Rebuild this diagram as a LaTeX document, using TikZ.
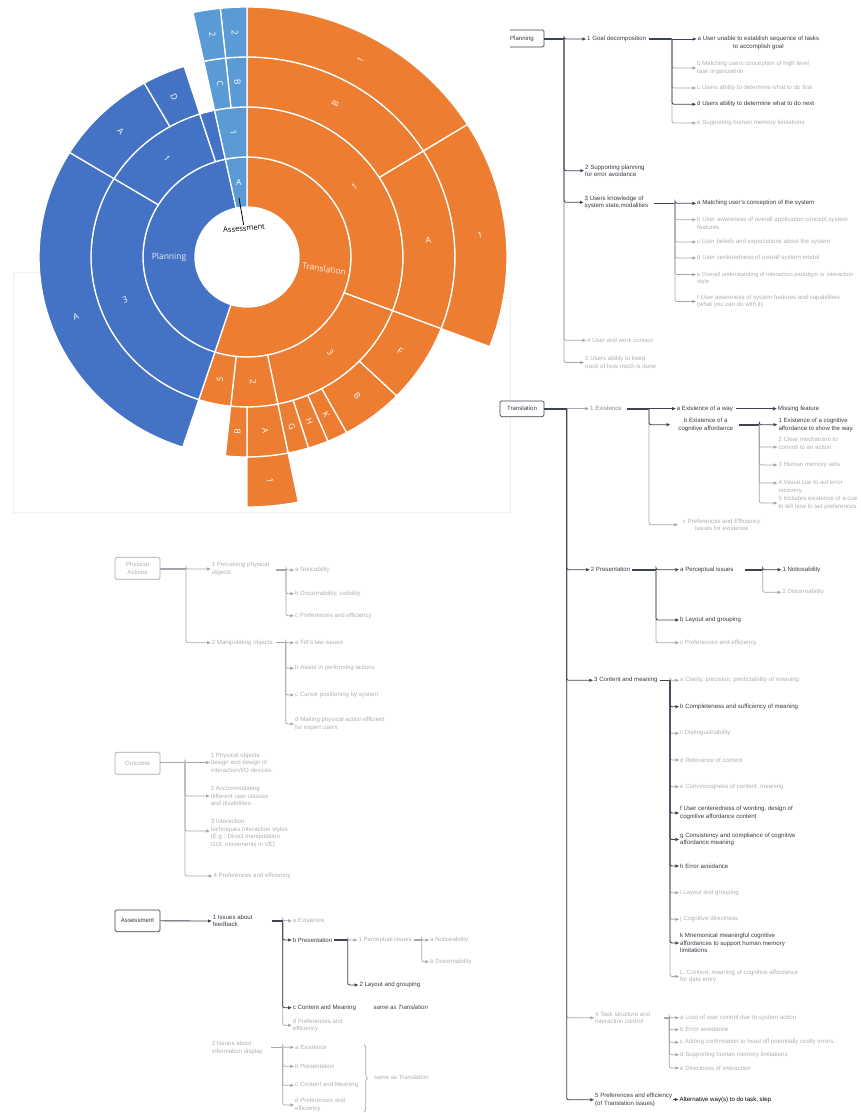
\documentclass[tikz,border=0pt]{standalone}
\usepackage{fontspec}
\setmainfont{Liberation Sans}
\newfontfamily\chartfont{Open Sans}
\usetikzlibrary{arrows.meta,decorations.pathreplacing}
\definecolor{tdark}{HTML}{363A44}
\definecolor{tmid}{HTML}{85888E}
\definecolor{tlight}{HTML}{ACAEB2}
\definecolor{ldark}{HTML}{3D4350}
\definecolor{llight}{HTML}{A3A6AC}
\definecolor{frame}{HTML}{F0F0F0}
\definecolor{ora}{HTML}{ED7D31}
\definecolor{blu}{HTML}{4472C4}
\definecolor{lbl}{HTML}{5B9BD5}
% annular sector: inner radius, outer radius, start angle, end angle, colour
\newcommand{\sbseg}[5]{\fill[seg,fill=#5] plot[domain=#3:#4,samples=60] (\x:#1) -- plot[domain=#4:#3,samples=60] (\x:#2) -- cycle;}
% sector label: angle, radius, text, rotation
\newcommand{\sblab}[4]{\node[slab,rotate=#4] at (#1:#2) {#3};}
\begin{document}
\begin{tikzpicture}[x=1pt,y=-1pt,
  txt/.style={inner sep=0pt, anchor=west, align=left, font=\fontsize{6.1}{7.5}\selectfont},
  dk/.style={txt,text=tdark},
  md/.style={txt,text=tmid},
  lt/.style={txt,text=tlight},
  box/.style={draw=#1, fill=white, rounded corners=1.5pt, line width=0.7pt, minimum width=44pt, inner sep=1pt, align=center, font=\fontsize{6.1}{7.5}\selectfont},
  cd/.style={draw=ldark, line width=0.85pt, rounded corners=2pt, -{Triangle[length=3.6pt,width=3pt]}, shorten >=1pt},
  cl/.style={draw=llight, line width=0.75pt, rounded corners=2pt, -{Triangle[length=3.6pt,width=3pt]}, shorten >=1pt},
  sd/.style={draw=ldark, line width=1.6pt},
  sl/.style={draw=llight, line width=1.4pt},
  seg/.style={draw=white, line width=1.3pt, line join=round},
  slab/.style={font=\chartfont\fontsize{8.5}{9}\selectfont, text=white, inner sep=0pt},
]
\useasboundingbox (0,0) rectangle (860,1113);

% faint border of the chart area
\draw[frame, line width=0.6pt] (40,272) -- (13,272) -- (13,512) -- (510,512) -- (510,297) -- (500,297);

% ---------------- Planning tree ----------------
\node[box=ldark, text=tdark, minimum height=17pt] (plan) at (522,38.5) {Planning};
\coordinate (jP) at (564,39);
\coordinate (jP1) at (672,39);
\coordinate (jP3) at (675,203.3);
\node[dk] (p1) at (587,39) {1 Goal decomposition};
\node[dk, align=center] (pa) at (697.5,43) {a User unable to establish sequence of tasks\\to accomplish goal};
\node[lt] (pb) at (697,68) {b Matching users conception of high level\\task organization};
\node[lt] (pc) at (697,88) {c Users ability to determine what to do first};
\node[dk] (pd) at (697,104.3) {d Users ability to determine what to do next};
\node[lt] (pe) at (697,123) {e Supporting human memory limitations};
\node[dk] (p2) at (585,170.7) {2 Supporting planning\\for error avoidance};
\node[dk] (p3) at (584.5,202.3) {3 Users knowledge of\\system state,modalities};
\node[dk] (p3a) at (697,203.3) {a Matching user's conception of the system};
\node[lt] (p3b) at (697,223.4) {b User awareness of overall application concept,system\\features};
\node[lt] (p3c) at (697,242) {c User beliefs and expectations about the system};
\node[lt] (p3d) at (697,258) {d User centeredness of overall system model};
\node[lt, font=\fontsize{5.75}{7.5}\selectfont] (p3e) at (697,278.3) {e Overall understanding of interaction paradigm or interaction\\style};
\node[lt] (p3f) at (697,301.5) {f User awareness of system features and capabilities\\(what you can do with it)};
\node[lt] (p4) at (587,340.3) {4 User and work context};
\node[lt] (p5) at (585,362.5) {5 Users ability to keep\\track of how much is done};

\draw[sd] (plan.east |- jP) -- (jP);
\draw[sd] ([xshift=3pt]p1.east |- jP1) -- (jP1);
\draw[sd] ([xshift=6pt]p3.east |- jP3) -- (jP3);
\draw[cl] (jP) |- (p4.west);
\draw[cl] (jP) |- (p5.west);
\draw[cl] (jP1) |- (pb.west);
\draw[cl] (jP1) |- (pc.west);
\draw[cl] (jP1) |- (pe.west);
\draw[cl] (jP3) |- ([yshift=3.75pt]p3b.west);
\draw[cl] (jP3) |- (p3c.west);
\draw[cl] (jP3) |- (p3d.west);
\draw[cl] (jP3) |- ([yshift=3.75pt]p3e.west);
\draw[cl] (jP3) |- (p3f.west);
\draw[cd] (jP) |- (p1.west);
\draw[cd] (jP) |- (p2.west);
\draw[cd] (jP) |- (p3.west);
\draw[cd] (jP1) -- (jP1 -| pa.west);
\draw[cd] (jP1) |- (pd.west);
\draw[cd] (jP3) |- (p3a.west);

% ---------------- Translation tree ----------------
\node[box=ldark, text=tdark, minimum height=15.7pt] (tra) at (522,408.8) {Translation};
\coordinate (jT) at (566.7,408.7);
\coordinate (jT1) at (649,408.7);
\coordinate (jTb) at (759.3,424.7);
\coordinate (jT2) at (656,569.7);
\coordinate (jT2a) at (762.7,569.7);
\coordinate (jT3) at (670,680.3);
\coordinate (jT4) at (669.3,1017.8);

\node[md] (t1) at (590,408.7) {1 Existence};
\node[dk] (t1a) at (676.7,408.7) {a Existence of a way};
\node[dk] (miss) at (777.7,408.7) {Missing feature};
\node[dk, anchor=center, align=center] (t1b) at (705.7,424.7) {b Existence of a\\cognitive affordance};
\node[dk] (tb1) at (778.3,424.7) {1 Existence of a cognitive\\affordance to show the way.};
\node[lt] (tb2) at (778.3,443.3) {2 Clear mechanism to\\commit to an action.};
\node[lt] (tb3) at (778.3,465) {3 Human memory aids};
\node[lt] (tb4) at (778.3,486.8) {4 Visual cue to aid error\\recovery.};
\node[lt] (tb5) at (778.3,503) {5 Includes existence of a cue\\to tell how to set preferences.};
\node[lt, anchor=center, align=center] (t1c) at (721.7,524.7) {c Preferences and Efficiency\\issues for existence};

\node[dk] (t2) at (590.7,569.7) {2 Presentation};
\node[dk] (t2a) at (680,569.7) {a Perceptual issues};
\node[dk] (t2a1) at (782.3,569.7) {1 Noticeability};
\node[lt] (t2a2) at (782.3,592.3) {2 Discernability};
\node[dk] (t2b) at (680,620) {b Layout and grouping};
\node[lt] (t2c) at (680,642.7) {c Preferences and efficiency};

\node[dk] (t3) at (594,680.3) {3 Content and meaning};
\node[lt] (t3a) at (680,680.3) {a Clarity, precision, predictability of meaning};
\node[dk] (t3b) at (680,706.7) {b Completeness and sufficiency of meaning};
\node[lt] (t3c) at (680,733.3) {c Distinguishability};
\node[lt] (t3d) at (680,760) {d Relevance of content};
\node[lt] (t3e) at (680,786.7) {e Convincingness of content, meaning};
\node[dk] (t3f) at (680,813) {f User centeredness of wording, design of\\cognitive affordance content};
\node[dk] (t3g) at (680,839.5) {g Consistency and compliance of cognitive\\affordance meaning};
\node[dk] (t3h) at (680,866) {h Error avoidance};
\node[lt] (t3i) at (680,892.7) {i Layout and grouping};
\node[lt] (t3j) at (680,919.3) {j Cognitive directness};
\node[dk] (t3k) at (680,943) {k Mnemonical meaningful cognitive\\affordances to support human memory\\limitations};
\node[lt] (t3l) at (680,976.5) {L. Content, meaning of cognitive affordance\\for data entry};

\node[lt] (t4) at (595,1017.8) {4 Task structure and\\interaction control};
\node[lt] (t4a) at (680,1017.8) {a Loss of user control due to system action};
\node[lt] (t4b) at (680,1029.7) {b Error avoidance};
\node[lt] (t4c) at (680,1042.3) {c Adding confirmation to head off potentially costly errors.};
\node[lt] (t4d) at (680,1054.7) {d Supporting human memory limitations};
\node[lt] (t4e) at (680,1068) {e Directness of interaction};

\node[dk] (t5) at (595,1099.8) {5 Preferences and efficiency\\(of Translation issues)};
\node[txt, text=black] (alt) at (679.5,1099.5) {Alternative way(s) to do task, step};

\draw[sd] (tra.east |- jT) -- (jT);
\draw[sd] ([xshift=5pt]t1.east |- jT1) -- (jT1);
\draw[sd] ([xshift=6pt]t1b.east |- jTb) -- (jTb);
\draw[sd] ([xshift=2pt]t2.east |- jT2) -- (jT2);
\draw[sd] ([xshift=11pt]t2a.east |- jT2a) -- (jT2a);
\draw[sd] ([xshift=2pt]t3.east |- jT3) -- (jT3);
\draw[sl] ([xshift=14pt]t4.east |- jT4) -- (jT4);

\draw[cl] (jT) -- (t1.west);
\draw[cl] (jT) |- (t4.west);
\draw[cl] (jT1) |- ([xshift=-4pt]t1c.west);
\draw[cl] (jTb) |- ([yshift=-3.75pt]tb2.west);
\draw[cl] (jTb) |- (tb3.west);
\draw[cl] (jTb) |- ([yshift=3.75pt]tb4.west);
\draw[cl] (jTb) |- (tb5.west);
\draw[cl] (jT2a) |- (t2a2.west);
\draw[cl] (jT2) |- (t2c.west);
\draw[cl] (jT3) |- (t3a.west);
\draw[cl] (jT3) |- (t3c.west);
\draw[cl] (jT3) |- (t3d.west);
\draw[cl] (jT3) |- (t3e.west);
\draw[cl] (jT3) |- (t3i.west);
\draw[cl] (jT3) |- (t3j.west);
\draw[cl] (jT3) |- (t3l.west);
\draw[cl] (jT4) |- (t4a.west);
\draw[cl] (jT4) |- (t4b.west);
\draw[cl] (jT4) |- (t4c.west);
\draw[cl] (jT4) |- (t4d.west);
\draw[cl] (jT4) |- (t4e.west);

\draw[cd] (jT) |- (t2.west);
\draw[cd] (jT) |- (t3.west);
\draw[cd] (jT) |- (t5.west);
\draw[cd] (jT1) -- (t1a.west);
\draw[cd] (jT1) |- ([xshift=-7pt]t1b.west);
\draw[cd] ([xshift=3pt]t1a.east) -- (miss.west);
\draw[cd] (jTb) |- (tb1.west);
\draw[cd] (jT2) |- (t2a.west);
\draw[cd] (jT2) |- (t2b.west);
\draw[cd] (jT2a) |- (t2a1.west);
\draw[cd] (jT3) |- (t3b.west);
\draw[cd] (jT3) |- (t3f.west);
\draw[cd] (jT3) |- (t3g.west);
\draw[cd] (jT3) |- (t3h.west);
\draw[cd] (jT3) |- (t3k.west);
\draw[cd] ([xshift=0.5pt]t5.east |- alt.west) -- (alt.west);

% ---------------- Physical actions ----------------
\node[box=llight, text=tlight, minimum width=45pt, minimum height=22pt] (phy) at (137.5,568.3) {Physical\\Actions};
\coordinate (jPA) at (186,569);
\coordinate (jPA1) at (286,570);
\coordinate (jPA2) at (285.7,642.7);
\node[lt] (pa1) at (211.7,569) {1 Perceiving physical\\objects};
\node[lt] (pa2) at (211.7,642.7) {2 Manipulating objects};
\node[lt] (pa1a) at (295,570) {a Noticability};
\node[lt] (pa1b) at (295,593.7) {b Discernability, visibility};
\node[lt] (pa1c) at (295,615.7) {c Preferences and efficiency};
\node[lt] (pa2a) at (295,642.7) {a Fitt's law issues};
\node[lt] (pa2b) at (295,668.3) {b Assist in performing actions};
\node[lt] (pa2c) at (295,695) {c Cursor positioning by system};
\node[lt] (pa2d) at (295,724) {d Making physical action efficient\\for expert users};

\draw[sl] (phy.east |- jPA) -- (jPA);
\draw[sl] ([xshift=7pt]pa1.east |- jPA1) -- (jPA1);
\draw[sl] ([xshift=3pt]pa2.east |- jPA2) -- (jPA2);
\draw[cl] (jPA) |- (pa1.west);
\draw[cl] (jPA) |- (pa2.west);
\draw[cl] (jPA1) |- (pa1a.west);
\draw[cl] (jPA1) |- (pa1b.west);
\draw[cl] (jPA1) |- (pa1c.west);
\draw[cl] (jPA2) |- (pa2a.west);
\draw[cl] (jPA2) |- (pa2b.west);
\draw[cl] (jPA2) |- (pa2c.west);
\draw[cl] (jPA2) |- (pa2d.west);

% ---------------- Outcome ----------------
\node[box=llight, text=tlight, minimum width=45pt, minimum height=22pt] (out) at (137.5,763.3) {Outcome};
\coordinate (jO) at (185,762.5);
\node[lt] (o1) at (210.7,762.5) {1 Physical objects\\design and design of\\interaction/I/O devices.};
\node[lt] (o2) at (210.7,796) {2 Accommodating\\different user classes\\and disabilities};
\node[lt] (o3) at (210.7,833.3) {3 Interaction\\techniques,Interaction styles\\(E.g : Direct manipulation\\GUI, movements in VE)};
\node[lt] (o4) at (213.3,876) {4 Preferences and efficiency};
\draw[sl] (out.east |- jO) -- (jO);
\draw[cl] (jO) |- (o1.west);
\draw[cl] (jO) |- (o2.west);
\draw[cl] (jO) |- ([yshift=2.3pt]o3.west);
\draw[cl] (jO) |- (o4.west);

% ---------------- Assessment ----------------
\node[box=ldark, text=tdark, minimum width=45pt, minimum height=21.7pt] (ass) at (137.5,920.8) {Assessment};
\coordinate (jA1) at (282.7,920.7);
\coordinate (jA1b) at (347.7,940);
\coordinate (jA1b1) at (421.7,940);
\coordinate (jA2) at (282.7,1047.3);
\node[dk] (a1) at (212.7,921) {1 Issues about\\feedback};
\node[lt] (a1a) at (292.7,920.7) {a Existence};
\node[dk] (a1b) at (292.7,940) {b Presentation};
\node[lt] (a1b1) at (358.3,940) {1 Perceptual issues};
\node[lt] (a1b1a) at (430,940) {a Noticeability};
\node[lt] (a1b1b) at (430,961.7) {b Discernability};
\node[dk] (a1b2) at (359.3,985) {2 Layout and grouping};
\node[dk] (a1c) at (292.7,1007.7) {c Content and Meaning};
\node[dk, font=\fontsize{6.1}{7.5}\selectfont\itshape] (same1) at (373.3,1007.7) {same as Translation};
\node[lt] (a1d) at (292.7,1025.3) {d Preferences and\\efficiency};
\node[lt] (a2) at (211.7,1047.8) {2 Issues about\\information display};
\node[lt] (a2a) at (295,1047.3) {a Existence};
\node[lt] (a2b) at (295,1066.3) {b Presentation};
\node[lt] (a2c) at (295,1085.3) {c Content and Meaning};
\node[lt] (a2d) at (295,1105) {d Preferences and\\efficiency};
\node[lt] (same2) at (374,1077.7) {same as \textit{Translation}};
\draw[llight, line width=0.7pt, decorate, decoration={brace, amplitude=3.5pt}] (a2a.north -| 364,0) -- (a2d.south -| 364,0);

\draw[cd] (ass.east) -- (a1.west);
\draw[sd] ([xshift=19pt]a1.east |- jA1) -- (jA1);
\draw[sd] ([xshift=2pt]a1b.east |- jA1b) -- (jA1b);
\draw[sl] ([xshift=2pt]a1b1.east |- jA1b1) -- (jA1b1);
\draw[sl] ([xshift=8pt]a2.east |- jA2) -- (jA2);
\draw[cl] (jA1) |- (a1a.west);
\draw[cl] (jA1) |- (a1d.west);
\draw[cl] (jA1b) |- (a1b1.west);
\draw[cl] (jA1b1) |- (a1b1a.west);
\draw[cl] (jA1b1) |- (a1b1b.west);
\draw[cl] (jA2) |- (a2a.west);
\draw[cl] (jA2) |- (a2b.west);
\draw[cl] (jA2) |- (a2c.west);
\draw[cl] (jA2) |- (a2d.west);
\draw[cd] (jA1) |- (a1b.west);
\draw[cd] (jA1) |- (a1c.west);
\draw[cd] (jA1b) |- (a1b2.west);

% chart area background over the left edge of the Planning box
\fill[white] (490,26) rectangle (510,52);

% ---------------- Sunburst ----------------
\begin{scope}[shift={(247,257)}, x=1.04pt, y=1pt]
% ring 1
\sbseg{50}{100}{-108}{90}{ora}
\sbseg{50}{100}{102}{252}{blu}
\sbseg{50}{100}{90}{102}{lbl}
% ring 2
\sbseg{100}{150}{-21}{90}{ora}
\sbseg{100}{150}{-78.6}{-21}{ora}
\sbseg{100}{150}{-96}{-78.6}{ora}
\sbseg{100}{150}{-108}{-96}{ora}
\sbseg{100}{150}{148.5}{252}{blu}
\sbseg{100}{150}{107.6}{148.5}{blu}
\sbseg{100}{150}{102}{107.6}{blu}
\sbseg{100}{150}{90}{102}{lbl}
% ring 3
\sbseg{150}{200}{32}{90}{ora}
\sbseg{150}{200}{-21}{32}{ora}
\sbseg{150}{200}{-44}{-21}{ora}
\sbseg{150}{200}{-61.4}{-44}{ora}
\sbseg{150}{200}{-67.1}{-61.4}{ora}
\sbseg{150}{200}{-72.8}{-67.1}{ora}
\sbseg{150}{200}{-78.6}{-72.8}{ora}
\sbseg{150}{200}{-90}{-78.6}{ora}
\sbseg{150}{200}{-96}{-90}{ora}
\sbseg{150}{200}{148.5}{252}{blu}
\sbseg{150}{200}{119.6}{148.5}{blu}
\sbseg{150}{200}{107.6}{119.6}{blu}
\sbseg{150}{200}{90}{95.9}{lbl}
\sbseg{150}{200}{95.9}{102}{lbl}
% ring 4
\sbseg{200}{250}{32}{90}{ora}
\sbseg{200}{250}{-21}{32}{ora}
\sbseg{200}{250}{-90}{-78.6}{ora}
\sbseg{200}{250}{90}{95.9}{lbl}
\sbseg{200}{250}{95.9}{102}{lbl}
% labels
\node[slab, text=white!88!blu] at (180:75) {Planning};
\node[slab, text=white!88!ora, rotate=-9] at (-9:75) {Translation};
\node[slab] (sA) at (96:75) {A};
\sblab{34.3}{125}{1}{34.3}
\sblab{-50}{125}{3}{-50}
\sblab{-87.3}{125}{2}{-87.3}
\sblab{-102}{125}{5}{78}
\sblab{200.25}{125}{3}{20.25}
\sblab{128}{125}{1}{-52}
\sblab{96}{125}{1}{-84}
\sblab{61}{175}{B}{61}
\sblab{5.5}{175}{A}{5.5}
\sblab{-32.7}{175}{F}{-32.7}
\sblab{-52.7}{175}{B}{-52.7}
\sblab{-64.25}{175}{K}{-64.25}
\sblab{-70}{175}{H}{-70}
\sblab{-75.7}{175}{G}{-75.7}
\sblab{-84.3}{175}{A}{-84.3}
\sblab{-93}{175}{B}{87}
\sblab{200}{175}{A}{20}
\sblab{134}{175}{A}{-46}
\sblab{113.6}{175}{D}{-66.4}
\sblab{93}{175}{B}{-87}
\sblab{98.5}{175}{C}{-81.5}
\sblab{61}{225}{1}{61}
\sblab{5.5}{225}{1}{5.5}
\sblab{-84.3}{225}{1}{-84.3}
\sblab{93}{225}{2}{-87}
\sblab{98.5}{225}{2}{-81.5}
\end{scope}
% Assessment call-out
\node[font=\chartfont\fontsize{7.5}{8}\selectfont, text=black, inner sep=0.5pt, rotate=5] (assl) at (244,228.5) {Assessment};
\coordinate (lead) at (239,198);
\draw[black, line width=0.8pt] (lead) -- (assl.north);
\end{tikzpicture}
\end{document}
